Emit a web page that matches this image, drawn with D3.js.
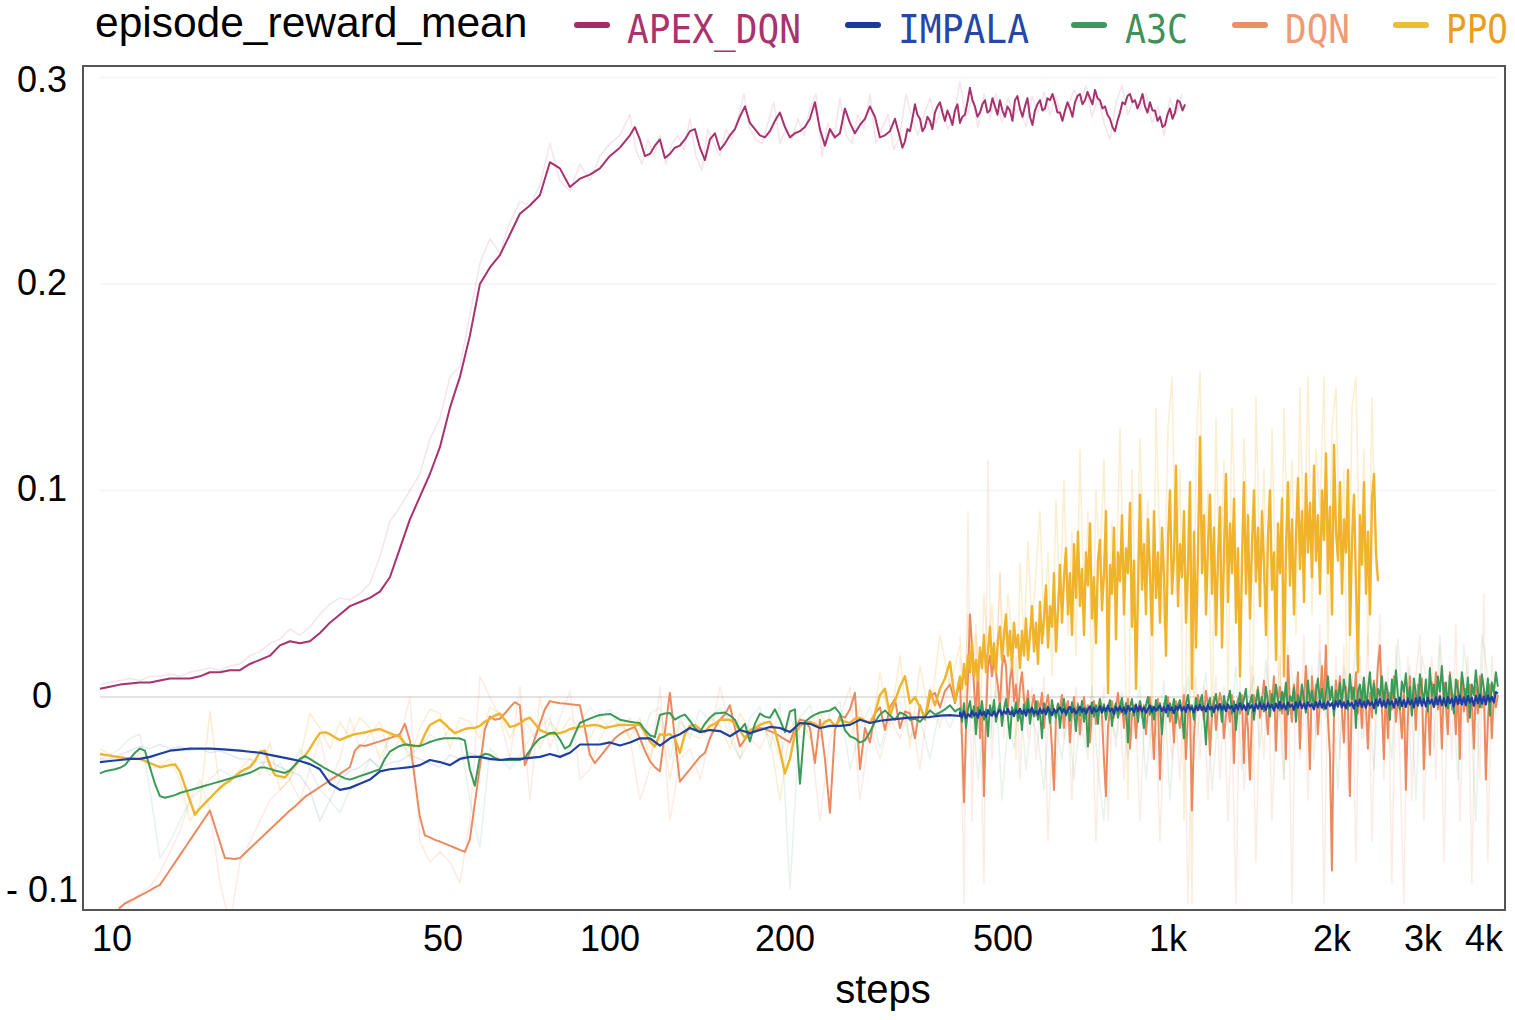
<!DOCTYPE html>
<html><head><meta charset="utf-8">
<script src="https://cdn.jsdelivr.net/npm/d3@7"></script>
<style>html,body{margin:0;padding:0;background:#fff;} svg{display:block}</style>
</head><body>
<svg id="chart" width="1515" height="1020"></svg>
<script>
// ---------------- DATA ----------------
const categories = ["APEX_DQN","IMPALA","A3C","DQN","PPO"];
const xTickValues = [10,50,100,200,500,1000,2000,3000,4000];
const xTickLabels = ["10","50","100","200","500","1k","2k","3k","4k"];
const yTickValues = [0.3,0.2,0.1,0,-0.1];
const yTickLabels = ["0.3","0.2","0.1","0","- 0.1"];

// APEX_DQN (smoothed): steps 9.43->108.2, 108.2->324.2, 324.2->1074.5
const apexSmooth1 = [.004,.005,.006,.0065,.007,.007,.008,.009,.009,.009,
.010,.012,.012,.013,.013,.016,.018,.020,.025,.027,
.026,.027,.031,.036,.040,.044,.046,.048,.051,.058,
.072,.086,.097,.108,.121,.140,.155,.175,.200,.208,
.214,.224,.234,.238,.243,.259,.256,.247,.251,.253,
.256,.262,.266,.272];
const apexSmooth2 = [.272,.276,.270,.262,.263,.267,.270,.261,.263,.266,
.267,.270,.274,.275,.266,.260,.270,.273,.265,.268,
.272,.275,.281,.286,.278,.275,.272,.271,.274,.279,
.283,.276,.271,.273,.274,.276,.280,.288,.275,.267,
.275,.271,.273,.285,.278,.273,.277,.280,.286,.281,
.271,.272,.274,.280,.271];
const apexSmooth3 = [.271,.266,.269,.275,.274,.280,.287,.282,.280,.274,
.276,.281,.279,.275,.283,.286,.288,.283,.279,.284,
.281,.277,.284,.287,.278,.281,.282,.288,.295,.289,
.286,.281,.283,.287,.289,.283,.284,.290,.286,.282,
.289,.284,.281,.286,.284,.279,.289,.291,.285,.281,
.286,.290,.281,.277,.284,.287,.289,.284,.285,.290,
.289,.292,.288,.283,.283,.279,.284,.288,.285,.281,
.288,.291,.292,.287,.289,.293,.290,.287,.294,.290,
.289,.285,.286,.282,.280,.276,.274,.279,.283,.288,
.287,.291,.292,.288,.289,.285,.288,.292,.286,.283,
.288,.284,.284,.279,.281,.276,.277,.282,.285,.280,
.283,.289,.288,.284,.287];
// APEX_DQN (raw): steps 9.43->108.2, 108.2->1061
const apexRaw1 = [.006,.007,.008,.009,.008,.010,.010,.011,.010,.012,
.013,.014,.013,.015,.016,.020,.022,.026,.028,.033,
.030,.034,.040,.045,.048,.047,.050,.055,.068,.085,
.092,.100,.108,.125,.135,.155,.160,.185,.210,.222,
.215,.230,.240,.238,.248,.268,.250,.245,.258,.250,
.262,.268,.272,.282];
const apexRaw2 = [.282,.265,.258,.270,.262,.272,.258,.268,.272,.265,
.280,.262,.255,.275,.268,.262,.275,.270,.280,.292,
.275,.270,.268,.278,.288,.268,.275,.270,.280,.272,
.285,.292,.262,.278,.270,.290,.272,.268,.282,.275,
.292,.268,.275,.282,.265,.272,.292,.280,.272,.282,
.290,.278,.286,.275,.282,.298,.280,.290,.276,.292,
.280,.292,.278,.290,.282,.285,.276,.291,.283,.293,
.282,.291,.280,.286,.294,.288,.296,.281,.290,.278,
.270,.288,.296,.282,.290,.284,.292,.278,.286,.272,
.290,.282,.292];

// IMPALA (smoothed): steps 9.43->417.3, 417.3->4270
const impalaSmooth1 = [-.0315,-.031,-.0305,-.030,-.030,-.029,-.0275,-.026,-.0255,-.025,
-.025,-.025,-.0252,-.0256,-.026,-.0265,-.027,-.028,-.029,-.030,
-.031,-.0325,-.035,-.042,-.045,-.044,-.042,-.040,-.036,-.035,
-.0345,-.034,-.033,-.0305,-.0315,-.033,-.030,-.029,-.029,-.030,
-.0305,-.030,-.030,-.0295,-.029,-.0276,-.029,-.027,-.023,-.023,
-.023,-.022,-.0235,-.022,-.020,-.020,-.0235,-.020,-.018,-.015,
-.017,-.016,-.0165,-.019,-.016,-.0175,-.016,-.0145,-.015,-.017,
-.0126,-.013,-.015,-.014,-.014,-.0135,-.011,-.0126,-.0115,-.011,
-.0105,-.010,-.0098,-.0097,-.009,-.0088,-.0092];
const impalaSmooth2 = [-.0075,-.0098,-.0070,-.0102,-.0083,-.0095,-.0068,-.0090,-.0078,-.0100,
-.0066,-.0088,-.0072,-.0095,-.0064,-.0085,-.0090,-.0070,-.0094,-.0075,
-.0062,-.0086,-.0068,-.0080,-.0058,-.0084,-.0070,-.0092,-.0065,-.0078,
-.0057,-.0082,-.0064,-.0090,-.0060,-.0075,-.0052,-.0080,-.0068,-.0085,
-.0055,-.0078,-.0060,-.0084,-.0050,-.0072,-.0088,-.0058,-.0076,-.0062,
-.0050,-.0076,-.0058,-.0082,-.0062,-.0048,-.0074,-.0056,-.0080,-.0066,
-.0048,-.0072,-.0055,-.0080,-.0060,-.0046,-.0078,-.0052,-.0070,-.0064,
-.0045,-.0075,-.0050,-.0068,-.0042,-.0070,-.0056,-.0082,-.0048,-.0066,
-.0046,-.0072,-.0052,-.0078,-.0044,-.0066,-.0054,-.0074,-.0040,-.0068,
-.0044,-.0070,-.0050,-.0076,-.0058,-.0042,-.0072,-.0048,-.0066,-.0054,
-.0042,-.0068,-.0050,-.0074,-.0040,-.0064,-.0052,-.0078,-.0046,-.0062,
-.0040,-.0066,-.0048,-.0072,-.0038,-.0060,-.0050,-.0074,-.0044,-.0064,
-.0038,-.0064,-.0046,-.0070,-.0036,-.0060,-.0048,-.0072,-.0040,-.0058,
-.0034,-.0062,-.0042,-.0068,-.0036,-.0056,-.0044,-.0070,-.0038,-.0060,
-.0030,-.0060,-.0040,-.0064,-.0032,-.0054,-.0040,-.0068,-.0034,-.0056,
-.0028,-.0058,-.0036,-.0062,-.0030,-.0052,-.0038,-.0066,-.0032,-.0054,
-.0024,-.0056,-.0034,-.0060,-.0028,-.0048,-.0036,-.0062,-.0026,-.0052,
-.0022,-.0054,-.0032,-.0058,-.0026,-.0046,-.0034,-.0060,-.0024,-.0050,
-.0018,-.0052,-.0028,-.0056,-.0022,-.0044,-.0030,-.0058,-.0020,-.0046,
-.0016,-.0050,-.0026,-.0054,-.0020,-.0042,-.0028,-.0056,-.0018,-.0044,
-.0012,-.0048,-.0022,-.0052,-.0016,-.0040,-.0024,-.0054,-.0014,-.0042,
-.0008,-.0046,-.0018,-.0050,-.0012,-.0038,-.0020,-.0052,-.0010,-.0040,
-.0004,-.0044,-.0014,-.0048,-.0008,-.0036,-.0016,-.0050,-.0006,-.0038,
-.0002,-.0042,-.0010,-.0046,-.0004,-.0032,-.0012,-.0048,-.0002,-.0036,
.0002,-.0040,-.0006,-.0044,.0000,-.0030,-.0008,-.0046,.0002,-.0034,
.0006,-.0036,-.0002,-.0040,.0004,-.0026,-.0004,-.0042,.0006,-.0030,
.0010,-.0032,.0002,-.0036,.0008,-.0022,.0000,-.0026,.0024,.0016];
// IMPALA (raw): steps 9.43->63.3
const impalaRaw1 = [-.030,-.030,-.028,-.026,-.024,-.025,-.023,-.025,-.024,-.026,
-.025,-.027,-.026,-.028,-.030,-.030,-.032,-.031,-.034,-.036,
-.038,-.045,-.060,-.050,-.040,-.036,-.034,-.030,-.034,-.032,
-.031,-.028,-.030,-.032,-.034,-.028,-.030,-.027,-.029,-.031,-.030];

// A3C (smoothed): steps 9.43->63.3, 63.3->417.3, 417.3->4270
const a3cSmooth1 = [-.037,-.036,-.0355,-.035,-.0343,-.033,-.030,-.027,-.025,-.026,
-.034,-.042,-.048,-.0488,-.0482,-.0475,-.0465,-.0458,-.0451,-.0444,
-.0437,-.0430,-.0423,-.0416,-.0409,-.0402,-.0395,-.0388,-.0381,-.0374,
-.0367,-.0355,-.0342,-.0342,-.0348,-.0356,-.0362,-.0368,-.0355,-.0330,
-.0300,-.0286,-.0300,-.0315,-.0330,-.0345,-.0358,-.0370,-.0382,-.0394,
-.0400,-.0392,-.0383,-.0375,-.0367,-.0358,-.0350,-.0300,-.0265,-.0250,
-.0237,-.0230,-.0233,-.0236,-.0237,-.0228,-.0218,-.0210,-.0203,-.0200,
-.0200,-.0200,-.0201,-.0210,-.0350,-.0430,-.0290,-.0275,-.0280,-.0295,-.0305];
const a3cSmooth2 = [-.0305,-.0305,-.0305,-.0305,-.0305,-.0295,-.0260,-.0225,-.0200,-.0190,
-.0175,-.0172,-.0205,-.0250,-.0235,-.0180,-.0126,-.0115,-.0105,-.0095,
-.0087,-.0085,-.0082,-.0095,-.0110,-.0115,-.0120,-.0124,-.0126,-.0160,
-.0185,-.0194,-.0087,-.0080,-.0077,-.0110,-.0095,-.0085,-.0115,-.0150,
-.0170,-.0130,-.0100,-.0080,-.0078,-.0075,-.0090,-.0110,-.0160,-.0130,
-.0215,-.0130,-.0080,-.0095,-.0100,-.0060,-.0110,-.0170,-.0070,-.0060,
-.0420,-.0120,-.0100,-.0085,-.0075,-.0070,-.0065,-.0050,-.0080,-.0160,
-.0190,-.0200,-.0220,-.0210,-.0170,-.0120,-.0085,-.0065,-.0090,-.0110,
-.0075,-.0085,-.0110,-.0105,-.0120,-.0095,-.0065,-.0085,-.0075,-.0060,
-.0040,-.0070,-.0055];
const a3cSmooth3 = [-.0055,-.0120,-.0030,-.0150,-.0060,-.0020,-.0100,-.0045,-.0180,-.0050,
-.0085,-.0020,-.0110,-.0060,-.0190,-.0040,-.0090,-.0015,-.0120,-.0065,
-.0030,-.0140,-.0060,-.0010,-.0100,-.0200,-.0050,-.0085,-.0025,-.0115,
-.0070,-.0160,-.0035,-.0090,-.0010,-.0130,-.0055,-.0095,-.0020,-.0110,
-.0060,-.0200,-.0030,-.0080,-.0045,-.0125,-.0015,-.0075,-.0100,-.0035,
-.0150,-.0060,-.0010,-.0090,-.0050,-.0115,-.0025,-.0070,-.0165,-.0040,
-.0090,-.0020,-.0120,-.0055,-.0240,-.0070,-.0025,-.0095,-.0040,-.0130,
-.0010,-.0075,-.0035,-.0110,-.0050,-.0015,-.0140,-.0060,-.0030,-.0100,
-.0045,-.0005,-.0085,-.0030,-.0220,-.0050,-.0010,-.0090,-.0035,-.0120,
-.0020,-.0070,-.0150,-.0040,.0000,-.0085,-.0045,-.0110,-.0015,-.0065,
-.0030,-.0180,-.0050,.0005,-.0095,-.0030,-.0075,-.0010,-.0125,-.0040,
-.0015,-.0080,-.0200,-.0035,.0010,-.0070,-.0040,-.0110,-.0005,-.0060,
-.0025,.0010,-.0085,-.0230,-.0040,-.0005,-.0095,-.0030,.0015,-.0065,
-.0035,-.0120,.0005,-.0055,-.0015,.0030,-.0080,-.0020,-.0160,-.0045,
.0020,-.0060,-.0010,.0040,-.0085,-.0030,.0010,-.0110,-.0025,.0035,
-.0045,.0000,-.0070,.0050,-.0025,-.0095,.0015,-.0040,.0060,-.0015,
-.0065,.0025,-.0030,.0070,-.0085,.0005,-.0020,.0045,-.0120,.0010,
-.0035,.0060,-.0010,-.0075,.0080,-.0025,.0030,-.0050,.0015,.0090,
-.0030,.0040,-.0060,.0020,.0100,-.0015,.0050,-.0090,.0030,-.0020,
.0070,-.0040,.0085,.0010,-.0060,.0110,-.0010,.0045,-.0150,.0025,
.0060,-.0020,.0095,-.0050,.0030,.0120,-.0015,.0065,-.0080,.0040,
.0005,.0100,-.0040,.0070,.0020,-.0110,.0085,-.0005,.0130,.0010,
-.0060,.0075,.0025,.0115,-.0030,.0050,-.0090,.0090,.0015,-.0045,
.0110,.0030,-.0020,.0085,-.0070,.0140,.0005,.0060,-.0035,.0100,
.0025,.0150,-.0010,.0070,-.0055,.0105,.0020,-.0080,.0085,.0035,
-.0030,.0120,.0045,-.0015,.0095,-.0100,.0060,.0010,.0130,.0030,
-.0050,.0110,.0040,-.0020,.0090,-.0090,.0070,.0020,.0120,.0050];
// A3C (raw): steps 9.43->417.3, 417.3->4190
const a3cRaw1 = [-.030,-.028,-.025,-.020,-.018,-.045,-.078,-.070,-.060,-.050,
-.045,-.040,-.035,-.038,-.040,-.033,-.030,-.038,-.032,-.040,
-.025,-.035,-.045,-.050,-.056,-.045,-.040,-.030,-.035,-.018,
-.020,-.028,-.024,-.018,-.022,-.015,-.020,-.050,-.073,-.025,
-.030,-.035,-.028,-.020,-.015,-.010,-.030,-.025,-.012,-.005,
-.010,-.006,-.015,-.010,-.025,-.008,-.005,-.030,-.010,-.020,
-.006,-.012,-.005,-.020,-.030,-.010,-.005,-.025,-.003,-.093,
-.010,-.004,-.020,-.008,-.002,-.035,-.015,-.005,-.025,-.008,
-.002,-.020,-.010,-.030,-.005,-.015,-.002];
const a3cRaw2 = [-.015,-.030,.000,-.040,-.010,-.020,.005,-.050,-.012,-.025,
.002,-.035,-.010,-.020,-.045,.000,-.015,-.030,-.005,-.040,
-.010,-.025,.005,-.035,-.060,-.008,-.020,.003,-.030,-.012,
.005,-.040,-.010,-.020,.008,-.050,-.005,-.015,.010,-.030,
-.008,.012,-.045,-.010,.005,-.020,.015,-.035,-.002,.010,
-.025,.018,-.010,.005,-.040,.020,-.005,-.020,.015,-.030,
.022,-.010,.008,-.045,.015,-.005,.025,-.020,.010,-.035,
.020,.000,-.030,.028,-.010,.015,-.050,.020,.005,-.025,
.030,-.015,.012,-.040,.025,.000,-.060,.030,.010,.005];

// DQN (smoothed): steps 9.43->63.3, 63.3->417.3, 417.3->4270
const dqnSmooth1 = [-.125,-.118,-.112,-.107,-.102,-.100,-.0987,-.0975,-.0962,-.0950,
-.0936,-.0922,-.0910,-.0874,-.0838,-.0802,-.0766,-.0730,-.0694,-.0658,
-.0622,-.0586,-.0550,-.0627,-.0703,-.0780,-.0782,-.0784,-.0780,-.0757,
-.0734,-.0711,-.0688,-.0665,-.0642,-.0619,-.0596,-.0573,-.0550,-.0530,
-.0507,-.0484,-.0468,-.0452,-.0436,-.0420,-.0404,-.0388,-.0372,-.0356,
-.0340,-.0260,-.0234,-.0237,-.0230,-.0222,-.0215,-.0207,-.0199,-.0190,
-.0180,-.0130,-.0210,-.0400,-.0580,-.0670,-.0680,-.0692,-.0700,-.0710,
-.0720,-.0730,-.0740,-.0750,-.0690,-.0515,-.0340,-.0157,-.0095,-.0110,-.0105];
const dqnSmooth2 = [-.0105,-.0080,-.0050,-.0025,-.0040,-.0330,-.0270,-.0200,-.0130,-.0060,
-.0020,-.0025,-.0030,-.0032,-.0035,-.0038,-.0040,-.0150,-.0280,-.0320,
-.0290,-.0260,-.0230,-.0200,-.0180,-.0165,-.0155,-.0145,-.0200,-.0260,
-.0310,-.0340,-.0360,-.0170,.0020,-.0200,-.0410,-.0380,-.0350,-.0320,
-.0290,-.0270,-.0200,-.0150,-.0110,-.0085,-.0040,-.0150,-.0240,-.0205,
-.0180,-.0160,-.0150,-.0155,-.0165,-.0175,-.0190,-.0205,-.0220,-.0150,
-.0110,-.0115,-.0150,-.0320,-.0110,-.0300,-.0560,-.0160,-.0090,-.0100,
-.0060,.0020,-.0350,-.0150,-.0220,-.0080,-.0050,-.0160,-.0050,-.0010,
-.0150,-.0070,-.0080,-.0200,-.0040,-.0110,.0000,.0020,-.0050,.0030,
.0060,-.0030,.0080];
const dqnSmooth3 = [.0080,-.0200,-.0510,-.0150,.0100,.0400,.0250,.0050,-.0100,.0150,
-.0200,-.0050,-.0480,-.0100,.0150,.0200,.0100,.0180,.0120,.0050,
-.0050,.0150,.0200,.0150,-.0050,.0080,.0150,-.0020,.0060,-.0080,
.0050,.0120,-.0010,-.0060,.0030,-.0120,-.0040,.0010,-.0090,-.0020,
-.0060,.0020,-.0150,-.0040,.0010,-.0080,-.0250,-.0450,-.0100,-.0030,
-.0060,.0010,-.0150,-.0050,-.0020,-.0220,-.0080,.0000,-.0110,-.0030,
-.0180,-.0060,.0000,-.0090,-.0040,-.0220,-.0070,-.0020,-.0130,-.0050,
-.0010,-.0090,-.0300,-.0480,-.0150,-.0060,-.0020,-.0100,-.0050,.0020,
-.0080,-.0030,-.0150,-.0060,-.0010,-.0250,-.0090,-.0040,-.0200,-.0070,
-.0020,-.0100,-.0040,-.0180,-.0070,.0000,-.0100,-.0300,-.0050,-.0010,
-.0400,-.0120,-.0030,-.0060,.0000,-.0120,-.0050,-.0220,-.0020,-.0090,
-.0150,-.0070,.0010,-.0300,-.0080,-.0040,-.0550,-.0200,-.0040,.0010,
-.0060,-.0020,-.0110,.0030,-.0040,-.0280,-.0080,.0000,-.0160,-.0050,
.0020,-.0030,-.0200,-.0090,-.0040,-.0120,.0010,-.0320,-.0050,-.0010,
-.0080,.0010,-.0320,-.0050,-.0150,-.0400,-.0080,.0010,-.0050,.0050,
-.0100,-.0020,.0080,-.0060,-.0180,.0030,-.0040,.0100,-.0260,-.0020,
.0050,-.0080,.0020,-.0300,.0200,-.0030,-.0120,.0060,-.0050,.0120,
-.0250,.0040,-.0020,.0150,-.0060,-.0350,.0100,-.0030,.0060,-.0180,
-.0020,.0150,-.0060,.0250,-.0100,-.0280,-.0840,-.0100,.0080,-.0030,
.0100,-.0060,-.0220,.0050,-.0030,-.0480,.0050,-.0020,.0120,-.0080,
.0030,-.0150,.0070,-.0040,-.0250,.0020,-.0100,.0080,-.0030,.0150,
.0250,-.0050,-.0300,.0060,-.0200,.0020,-.0060,.0100,-.0120,-.0020,
-.0060,-.0200,.0040,-.0450,-.0100,.0100,-.0080,.0030,-.0160,.0060,
-.0030,.0090,-.0350,-.0100,.0020,-.0280,.0070,-.0040,.0120,-.0060,
.0010,-.0250,.0070,-.0040,-.0180,.0120,-.0060,.0010,-.0180,.0080,
-.0300,.0100,-.0070,.0040,-.0120,.0060,-.0020,-.0250,.0050,-.0080,
.0100,-.0050,.0040,-.0400,-.0120,.0060,-.0200,.0020,-.0050,.0010];
// DQN (raw): steps 9.43->417.3, 417.3->4230
const dqnRaw1 = [-.120,-.115,-.110,-.100,-.095,-.092,-.085,-.075,-.065,-.050,
-.040,-.055,-.090,-.110,-.080,-.070,-.060,-.050,-.045,-.040,
-.050,-.035,-.020,-.040,-.030,-.010,-.025,-.018,-.012,-.030,
-.020,.000,-.070,-.080,-.075,-.080,-.090,-.060,.010,.000,
-.010,-.030,.005,-.050,.000,-.025,-.010,.003,-.040,-.035,
-.020,-.012,-.010,-.020,-.050,-.035,.005,-.060,-.030,-.025,
-.040,-.020,.005,-.015,-.030,-.020,-.025,-.015,-.030,-.010,
-.020,-.015,-.060,-.020,-.010,.005,-.050,-.015,-.030,-.010,
-.020,-.005,-.035,.005,-.015,.010,.005];
const dqnRaw2 = [.020,-.100,.090,-.060,.030,.000,-.090,.115,-.030,.010,
.060,-.020,.030,-.010,.020,-.040,.010,-.020,.005,-.030,
-.010,.010,-.070,-.020,-.040,.000,-.020,-.010,-.050,.005,
-.020,-.010,-.030,.000,-.070,-.015,.005,-.060,-.010,-.025,
-.005,-.040,.000,-.020,-.008,-.060,-.015,.000,-.030,-.010,
-.070,-.020,.000,-.030,-.010,-.040,.005,-.100,-.020,.010,
-.030,.005,-.050,-.010,.010,-.040,.000,-.060,-.015,-.100,
.010,-.045,-.020,.015,-.080,.000,-.030,.020,-.060,-.010,
.020,-.040,.025,-.100,.010,-.030,.030,-.050,.015,-.020,
.035,-.100,.010,-.060,.020,-.030,.025,-.045,.010,-.080,
.020,-.020,.030,-.070,.000,.040,-.040,.015,-.090,.025,
-.030,-.100,.020,-.050,.010,.030,-.060,.000,.020,-.040,
.025,-.080,.010,-.030,.035,-.060,.000,.020,-.090,.010,
-.040,.050,-.080,.020,-.010];

// PPO (smoothed): steps 9.43->63.3, 63.3->417.3, 417.3->2455
const ppoSmooth1 = [-.0276,-.0280,-.0284,-.0288,-.0292,-.0295,-.0297,-.0299,-.0300,-.0310,
-.0320,-.0330,-.0340,-.0335,-.0330,-.0326,-.0360,-.0430,-.0500,-.0570,
-.0540,-.0515,-.0490,-.0465,-.0440,-.0420,-.0405,-.0385,-.0365,-.0350,
-.0340,-.0310,-.0265,-.0260,-.0330,-.0378,-.0384,-.0390,-.0360,-.0330,
-.0305,-.0285,-.0250,-.0210,-.0175,-.0170,-.0180,-.0195,-.0208,-.0198,
-.0188,-.0180,-.0176,-.0172,-.0165,-.0160,-.0155,-.0165,-.0175,-.0185,
-.0190,-.0225,-.0237,-.0237,-.0237,-.0180,-.0136,-.0122,-.0110,-.0130,
-.0155,-.0175,-.0165,-.0155,-.0150,-.0150,-.0140,-.0120,-.0107,-.0090,-.0080];
const ppoSmooth2 = [-.0080,-.0110,-.0145,-.0140,-.0128,-.0110,-.0100,-.0130,-.0160,-.0170,
-.0180,-.0178,-.0175,-.0168,-.0155,-.0150,-.0145,-.0140,-.0138,-.0135,
-.0140,-.0150,-.0145,-.0140,-.0135,-.0135,-.0136,-.0136,-.0136,-.0170,
-.0215,-.0240,-.0180,-.0185,-.0180,-.0200,-.0270,-.0180,-.0140,-.0135,
-.0155,-.0170,-.0140,-.0130,-.0110,-.0110,-.0110,-.0130,-.0160,-.0200,
-.0160,-.0150,-.0135,-.0125,-.0120,-.0160,-.0260,-.0370,-.0300,-.0180,
-.0140,-.0125,-.0120,-.0130,-.0150,-.0120,-.0110,-.0140,-.0110,-.0120,
-.0125,-.0105,-.0100,-.0115,-.0125,-.0080,.0010,.0040,-.0090,-.0020,
.0050,.0100,-.0030,.0000,-.0050,-.0100,.0030,-.0040,.0040,.0090,
.0170,-.0020,.0100];
const ppoSmooth3 = [.010,.004,.016,.006,.020,.012,.026,.010,.018,.008,
.024,.014,.030,.012,.022,.034,.016,.026,.012,.028,
.034,.018,.030,.040,.020,.032,.014,.036,.024,.030,
.014,.032,.020,.038,.018,.030,.044,.022,.036,.016,
.046,.026,.038,.054,.024,.044,.034,.060,.022,.042,
.064,.036,.058,.072,.040,.060,.030,.074,.048,.080,
.044,.062,.030,.070,.054,.084,.038,.058,.026,.066,
.076,.042,.060,.090,.002,.064,.050,.082,.028,.070,
.056,.088,.040,.072,.060,.094,.034,.066,.004,.050,
.098,.052,.074,.040,.086,.060,.030,.090,.048,.070,
.036,.082,.058,.020,.076,.100,.050,.068,.112,.044,
.074,.058,.090,.036,.062,.104,.004,.080,.024,.070,
.126,.060,.088,.040,.074,.098,.050,.082,.030,.068,
.092,.024,.070,.108,.046,.084,.060,.096,.036,.072,
.010,.066,.104,.050,.088,.038,.074,.100,.056,.082,
.044,.090,.064,.030,.078,.100,.052,.070,.018,.084,
.060,.096,.010,.072,.104,.054,.086,.040,.078,.106,
.062,.090,.046,.108,.070,.094,.058,.112,.066,.088,
.050,.100,.076,.118,.060,.092,.040,.122,.080,.066,
.104,.050,.086,.070,.110,.030,.076,.098,.054,.012,
.088,.064,.104,.050,.080,.040,.096,.108,.070,.056];
// PPO (raw): steps 9.43->417.3, 417.3->2433
const ppoRaw1 = [-.025,-.028,-.030,-.031,-.027,-.035,-.033,-.030,-.040,-.060,
-.052,-.007,-.045,-.040,-.035,-.030,-.038,-.022,-.045,-.040,
-.030,-.008,-.015,-.025,-.012,-.020,-.010,-.015,-.030,-.018,
-.020,-.030,-.015,-.006,-.008,-.025,-.010,-.012,-.020,-.005,
-.008,-.020,-.010,-.015,-.025,-.012,-.018,-.010,-.015,-.020,
-.010,-.015,-.012,-.020,-.010,-.030,-.008,-.040,-.012,-.018,
-.020,-.010,-.014,-.025,-.008,-.016,-.012,-.020,-.050,-.015,
-.010,-.020,-.008,-.015,-.012,-.020,-.005,-.022,.012,-.015,
.020,-.025,.015,-.010,.030,.005,.025];
const ppoRaw2 = [.030,-.010,.040,.010,.035,-.020,.050,.020,.045,.005,
.060,.015,.050,.030,-.030,.065,.025,.075,.035,.060,
.090,.030,.070,.010,.095,.045,.105,.030,.080,.020,
.120,.040,.090,.000,.100,.060,.115,.020,.085,.050,
.130,.050,-.050,.110,.030,.125,.060,.095,-.020,.140,
.070,.035,.130,.155,.050,.110,-.060,.090,-.100,.120,
.158,.060,.100,-.020,.135,.045,.115,.000,.140,.070,
.030,.125,.080,-.040,.145,.060,.110,.020,.130,.050,
-.010,.140,.070,.115,.030,.150,.060,.155,.040,.120,
.090,.155,.020,.130,.150,.060,.110,-.030,.140,.155,
.050,.120,.020,.145,.060];

// ---------------- SERIES TABLE ----------------
const series = [
  {name:"DQN", color:"#ea8a5e", legendColor:"#ef9b76", rawOpacity:0.16, width:2,
   raw:[[9.43,417.3,dqnRaw1],[417.3,4230,dqnRaw2]],
   smooth:[[9.43,63.3,dqnSmooth1],[63.3,417.3,dqnSmooth2],[417.3,4270,dqnSmooth3]]},
  {name:"PPO", color:"#f0b32c", legendColor:"#eb9d1c", rawOpacity:0.22, width:2.4,
   raw:[[9.43,417.3,ppoRaw1],[417.3,2433,ppoRaw2]],
   smooth:[[9.43,63.3,ppoSmooth1],[63.3,417.3,ppoSmooth2],[417.3,2455,ppoSmooth3]]},
  {name:"A3C", color:"#3c9a58", legendColor:"#3f915a", rawOpacity:0.12, width:2,
   raw:[[9.43,417.3,a3cRaw1],[417.3,4190,a3cRaw2]],
   smooth:[[9.43,63.3,a3cSmooth1],[63.3,417.3,a3cSmooth2],[417.3,4270,a3cSmooth3]]},
  {name:"IMPALA", color:"#1f3fa0", legendColor:"#2447a8", rawOpacity:0.12, width:2.2,
   raw:[[9.43,63.3,impalaRaw1]],
   smooth:[[9.43,417.3,impalaSmooth1],[417.3,4270,impalaSmooth2]]},
  {name:"APEX_DQN", color:"#a8326c", legendColor:"#a8336e", rawOpacity:0.13, width:2,
   raw:[[9.43,108.2,apexRaw1],[108.2,1061,apexRaw2]],
   smooth:[[9.43,108.2,apexSmooth1],[108.2,324.2,apexSmooth2],[324.2,1074.5,apexSmooth3]]}
];
const legendSwatch = {"APEX_DQN":"#a32c64","IMPALA":"#1a3a9a","A3C":"#3d9a5c","DQN":"#ea9068","PPO":"#f0bb35"};

// ---------------- LAYOUT ----------------
const svg = d3.select("#chart");
const frame = {x0:83, y0:66, x1:1505, y1:910};
const x = d3.scaleLog()
  .domain(xTickValues)
  .range([112,443,610,785,1003,1168,1332,1423,1484]);
const y = d3.scaleLinear().domain([-0.1,0.3]).range([903.5,77.5]);

svg.append("rect").attr("width",1515).attr("height",1020).attr("fill","#fff");

svg.append("defs").append("clipPath").attr("id","clip")
  .append("rect").attr("x",frame.x0+1).attr("y",frame.y0+1)
  .attr("width",frame.x1-frame.x0-2).attr("height",frame.y1-frame.y0-2);

// gridlines
const gx0 = 100, gx1 = 1497;
svg.append("g").selectAll("line").data(yTickValues.filter(v=>v>-0.1)).join("line")
  .attr("x1",gx0).attr("x2",gx1)
  .attr("y1",d=>y(d)).attr("y2",d=>y(d))
  .attr("stroke",d=>d===0?"#e3e3e3":"#f4f4f4")
  .attr("stroke-width",d=>d===0?2:1.5);

function expand(run){
  const [from,to,vals] = run;
  const p0 = x(from), p1 = x(to), n = vals.length;
  return vals.map((v,i)=>({step:x.invert(p0+(p1-p0)*i/(n-1)), value:v}));
}
const line = d3.line().x(d=>x(d.step)).y(d=>y(d.value));

const plot = svg.append("g").attr("clip-path","url(#clip)");
series.forEach(s=>{
  s.raw.forEach(r=>{
    plot.append("path").datum(expand(r)).attr("d",line)
      .attr("fill","none").attr("stroke",s.color)
      .attr("stroke-opacity",s.rawOpacity).attr("stroke-width",1.5)
      .attr("stroke-linejoin","round");
  });
});
series.forEach(s=>{
  const pts = [].concat(...s.smooth.map(expand));
  plot.append("path").datum(pts).attr("d",line)
    .attr("fill","none").attr("stroke",s.color)
    .attr("stroke-width",s.width)
    .attr("stroke-linejoin","round");
});

// frame
svg.append("rect").attr("x",frame.x0).attr("y",frame.y0)
  .attr("width",frame.x1-frame.x0).attr("height",frame.y1-frame.y0)
  .attr("fill","none").attr("stroke","#555").attr("stroke-width",2);

// y tick labels
svg.append("g").selectAll("text").data(yTickValues).join("text")
  .attr("x",42).attr("y",d=>Math.max(79,Math.min(y(d)-2,889)))
  .attr("dy","0.35em").attr("text-anchor","middle")
  .attr("font-family","Liberation Sans, Arial, sans-serif").attr("font-size",36)
  .attr("fill","#000")
  .text((d,i)=>yTickLabels[i]);

// x tick labels
svg.append("g").selectAll("text").data(xTickValues).join("text")
  .attr("x",d=>x(d)).attr("y",951).attr("text-anchor","middle")
  .attr("font-family","Liberation Sans, Arial, sans-serif").attr("font-size",36)
  .attr("fill","#000")
  .text((d,i)=>xTickLabels[i]);

// axis title
svg.append("text").attr("x",883).attr("y",1003).attr("text-anchor","middle")
  .attr("font-family","Liberation Sans, Arial, sans-serif").attr("font-size",40)
  .attr("fill","#000").text("steps");

// chart title
svg.append("text").attr("x",95).attr("y",37)
  .attr("font-family","Liberation Sans, Arial, sans-serif").attr("font-size",42.5)
  .attr("fill","#000").text("episode_reward_mean");

// legend
const legendPos = {"APEX_DQN":[574,627,174],"IMPALA":[845,898,131],"A3C":[1071,1125,63],"DQN":[1232,1285,65],"PPO":[1393,1446,62]};
const lg = svg.append("g");
categories.forEach(name=>{
  const s = series.find(d=>d.name===name);
  const [sx,tx,tw] = legendPos[name];
  lg.append("rect").attr("x",sx).attr("y",22).attr("width",36).attr("height",6)
    .attr("rx",3).attr("fill",legendSwatch[name]);
  lg.append("text").attr("x",tx).attr("y",43)
    .attr("font-family","DejaVu Sans Mono, monospace").attr("font-size",39)
    .attr("textLength",tw).attr("lengthAdjust","spacingAndGlyphs")
    .attr("fill",s.legendColor).text(name);
});
</script>
</body></html>
